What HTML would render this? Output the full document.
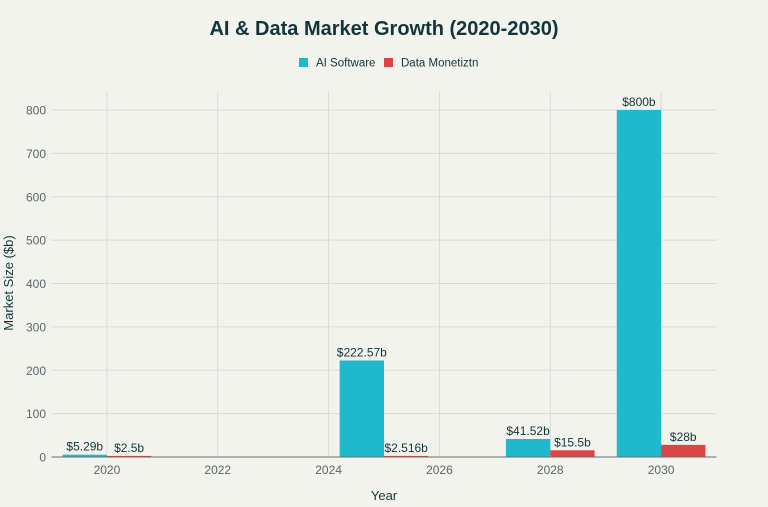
<!DOCTYPE html>
<html><head><meta charset="utf-8"><style>
html,body{margin:0;padding:0;background:#F3F3EE;}
svg{display:block;font-family:"Liberation Sans",sans-serif;}
</style></head><body>
<svg id="c" width="768" height="507" viewBox="0 0 768 507">
<rect width="768" height="507" fill="#F3F3EE"/>
<text x="384" y="35" text-anchor="middle" font-size="20" font-weight="bold" fill="#13343B">AI &amp; Data Market Growth (2020-2030)</text>
<g>
<rect x="299" y="58" width="9" height="9" fill="#1FB8CD"/>
<text x="316" y="66.5" font-size="11.5" fill="#13343B">AI Software</text>
<rect x="384" y="58" width="9" height="9" fill="#DB4545"/>
<text x="401" y="66.5" font-size="11.5" fill="#13343B">Data Monetiztn</text>
</g>
<g id="grid"></g>
<g id="bars"></g>
<g id="axes"></g>
<text x="384" y="500" text-anchor="middle" font-size="13" fill="#13343B">Year</text>
<text transform="translate(13,283) rotate(-90)" text-anchor="middle" font-size="13" fill="#13343B">Market Size ($b)</text>
</svg>
<script>
const years=[2020,2025,2028,2030];
const aiValues=[5.29,222.57,41.52,800];
const dataValues=[2.5,2.516,15.5,28];
const aiLabels=["$5.29b","$222.57b","$41.52b","$800b"];
const dataLabels=["$2.5b","$2.516b","$15.5b","$28b"];
const yTicks=[0,100,200,300,400,500,600,700,800];
const xTicks=[2020,2022,2024,2026,2028,2030];

const NS="http://www.w3.org/2000/svg";
const x0=51.5,x1=716.5,xmin=2019,xmax=2031,y0=457,y800=110;
const X=v=>x0+(v-xmin)/(xmax-xmin)*(x1-x0);
const Y=v=>y0-(v/800)*(y0-y800);
function mk(tag,attrs,parent,text){const e=document.createElementNS(NS,tag);for(const k in attrs)e.setAttribute(k,attrs[k]);if(text!==undefined)e.textContent=text;parent.appendChild(e);return e;}
const grid=document.getElementById('grid'),bars=document.getElementById('bars'),axes=document.getElementById('axes');
yTicks.forEach(t=>{
  const l=mk('line',{x1:x0,x2:x1,y1:Y(t),y2:Y(t),stroke:'#DADAD5','stroke-width':1},grid);
  
  
  const tx=mk('text',{x:46,y:Y(t)+4.5,'text-anchor':'end','font-size':12,fill:'#5a6669'},axes,String(t));
  
  
});
xTicks.forEach(t=>{
  const l=mk('line',{x1:X(t),x2:X(t),y1:92,y2:y0,stroke:'#DADAD5','stroke-width':1},grid);
  
  
  const tx=mk('text',{x:X(t),y:474,'text-anchor':'middle','font-size':12,fill:'#5a6669'},axes,String(t));
  
  
});
const bw=0.8;
years.forEach((yr,i)=>{
  const a=mk('rect',{x:X(yr-bw),y:Y(aiValues[i]),width:X(yr)-X(yr-bw),height:y0-Y(aiValues[i]),fill:'#1FB8CD'},bars);
  
  
  const d=mk('rect',{x:X(yr),y:Y(dataValues[i]),width:X(yr+bw)-X(yr),height:y0-Y(dataValues[i]),fill:'#DB4545'},bars);
  
  
  const la=mk('text',{x:X(yr-bw/2),y:Y(aiValues[i])-4,'text-anchor':'middle','font-size':12,fill:'#13343B'},bars,aiLabels[i]);
  
  
  const ld=mk('text',{x:X(yr+bw/2),y:Y(dataValues[i])-4,'text-anchor':'middle','font-size':12,fill:'#13343B'},bars,dataLabels[i]);
  
  
});
const ax=mk('line',{x1:x0,x2:x1,y1:y0,y2:y0,stroke:'#6b6b6b','stroke-width':1},axes);


</script>
</body></html>
